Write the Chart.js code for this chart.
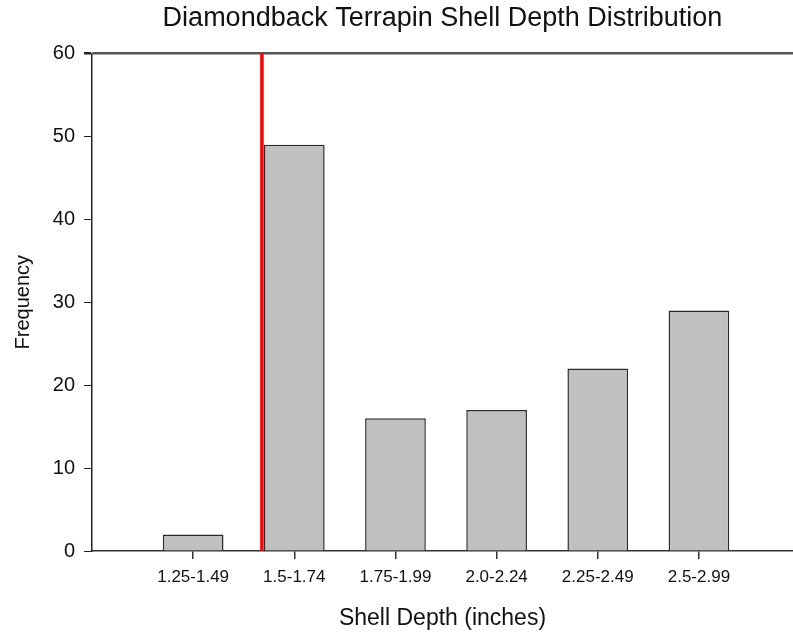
<!DOCTYPE html>
<html>
<head>
<meta charset="utf-8">
<script src="https://cdn.jsdelivr.net/npm/chart.js@4"></script>
<style>
  html, body { margin: 0; padding: 0; background: #fff; overflow: hidden; }
  canvas { display: block; }
</style>
</head>
<body>
<canvas id="histChart" width="793" height="632"></canvas>
<script>
        // Data
        const depthBins = ['1.25-1.49', '1.5-1.74', '1.75-1.99', '2.0-2.24', '2.25-2.49', '2.5-2.99'];
        const frequencies = [2, 49, 16, 17, 22, 29];
        const yTicks = [0, 10, 20, 30, 40, 50, 60];
        const cutoffPosition = 0.68; // red marker, between first and second bin

        const FONT = 'Liberation Sans, Arial, sans-serif';

        const ctx = document.getElementById('histChart').getContext('2d');
        new Chart(ctx, {
            data: {
                datasets: [{
                    type: 'bar',
                    label: 'Frequency',
                    data: depthBins.map((b, i) => ({ x: i, y: frequencies[i] })),
                    backgroundColor: '#c0c0c0',
                    borderColor: '#2a2a2a',
                    borderWidth: 1.5,
                    barPercentage: 0.6,
                    categoryPercentage: 1.0,
                    order: 1
                }, {
                    type: 'line',
                    label: 'Cutoff',
                    data: [{ x: cutoffPosition, y: yTicks[0] }, { x: cutoffPosition, y: yTicks[yTicks.length - 1] }],
                    borderColor: '#ff0000',
                    borderWidth: 3.5,
                    pointRadius: 0,
                    fill: false,
                    order: 2
                }]
            },
            options: {
                responsive: false,
                animation: false,
                layout: { padding: 0 },
                plugins: {
                    legend: { display: false },
                    tooltip: { enabled: false },
                    title: {
                        display: true,
                        text: 'Diamondback Terrapin Shell Depth Distribution',
                        color: '#111',
                        fullSize: false,
                        font: { family: FONT, size: 27, weight: 'normal' },
                        padding: { top: 2, bottom: 19 }
                    }
                },
                scales: {
                    x: {
                        type: 'linear',
                        min: -1,
                        max: 5.93,
                        offset: false,
                        afterBuildTicks: axis => {
                            axis.ticks = depthBins.map((b, i) => ({ value: i }));
                        },
                        afterFit: axis => { axis.height = 81; },
                        border: { color: '#333', width: 1.5 },
                        grid: { offset: false, drawOnChartArea: false, tickLength: 8, color: '#333', lineWidth: 1.5 },
                        ticks: {
                            autoSkip: false,
                            maxRotation: 0,
                            padding: 8,
                            color: '#111',
                            font: { family: FONT, size: 17 },
                            callback: v => depthBins[v]
                        },
                        title: {
                            display: true,
                            text: 'Shell Depth (inches)',
                            color: '#111',
                            font: { family: FONT, size: 23 },
                            padding: { top: 3, bottom: 0 }
                        }
                    },
                    y: {
                        min: 0,
                        max: 60,
                        afterBuildTicks: axis => {
                            axis.ticks = yTicks.map(v => ({ value: v }));
                        },
                        afterFit: axis => { axis.width = 92; },
                        border: { color: '#222', width: 1.5 },
                        grid: {
                            color: c => c.tick && c.tick.value === 60 ? '#555' : 'rgba(0,0,0,0)',
                            lineWidth: c => c.tick && c.tick.value === 60 ? 2.5 : 1,
                            tickColor: '#222',
                            tickLength: 8
                        },
                        ticks: {
                            padding: 9,
                            color: '#111',
                            font: { family: FONT, size: 20 }
                        },
                        title: {
                            display: true,
                            text: 'Frequency',
                            color: '#111',
                            font: { family: FONT, size: 20 },
                            padding: { top: 11, bottom: 0 }
                        }
                    }
                }
            }
        });
</script>
</body>
</html>
